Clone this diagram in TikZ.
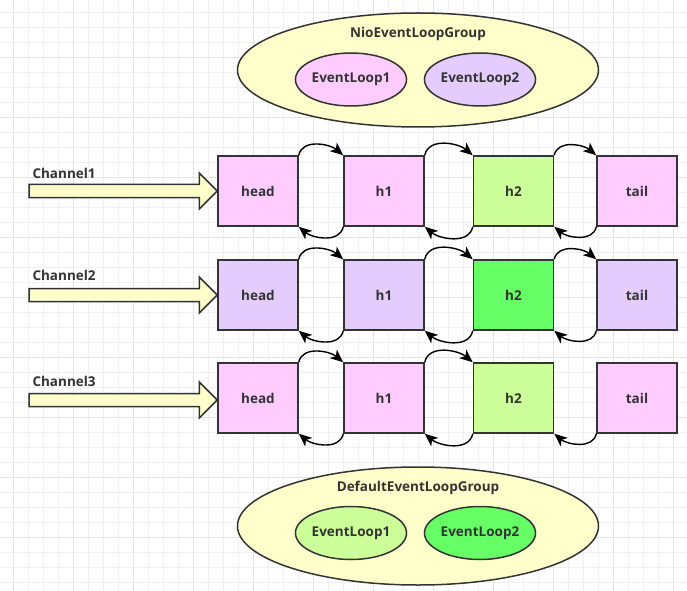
\documentclass[tikz,border=0pt]{standalone}
\usepackage{fontspec}
\setmainfont{Open Sans}
\usetikzlibrary{arrows.meta,shapes.geometric}
\definecolor{strk}{HTML}{333333}
\definecolor{txt}{HTML}{333333}
\definecolor{pinkf}{HTML}{FFCCFF}
\definecolor{lavf}{HTML}{E5CCFF}
\definecolor{lgreen}{HTML}{CCFF99}
\definecolor{bgreen}{HTML}{66FF66}
\definecolor{lyellow}{HTML}{FFFFCC}
\definecolor{gridl}{HTML}{F0F0F0}
\definecolor{gridd}{HTML}{E4E4E4}
\tikzset{
  x=1bp, y=1bp,
  lbl/.style={font=\fontsize{13.5bp}{15bp}\selectfont\bfseries, text=txt},
  cell/.style={draw=strk, line width=1.5bp, minimum width=80bp, minimum height=70bp, inner sep=0pt, lbl},
  grp/.style={ellipse, draw=strk, line width=1.5bp, fill=lyellow, minimum width=361bp, inner sep=0pt},
  loop/.style={ellipse, draw=strk, line width=1.5bp, minimum width=105bp, minimum height=53bp, inner sep=0pt, lbl},
  link/.style={draw=black, line width=1.4bp, -{Stealth[length=13bp,width=11bp,inset=3.5bp]}},
  upl/.style={out=78,in=140},
  dnl/.style={out=-102,in=-40},
  blockarrow/.style={draw=strk, line width=1.5bp, fill=lyellow, line join=miter}
}
\begin{document}
\begin{tikzpicture}
\useasboundingbox (0,0) rectangle (687,-591);
\fill[white] (0,0) rectangle (687,-591);
% grid
\foreach \k in {0,...,46} {
  \draw[gridl, line width=1bp] (13.3+15*\k,0) -- (13.3+15*\k,-591);
}
\foreach \k in {0,...,39} {
  \draw[gridl, line width=1bp] (0,-12.3-15*\k) -- (687,-12.3-15*\k);
}
\foreach \k in {0,...,11} {
  \draw[gridd, line width=1bp] (13.3+60*\k,0) -- (13.3+60*\k,-591);
}
\foreach \k in {1,...,10} {
  \draw[gridd, line width=1bp] (0,2.7-60*\k) -- (687,2.7-60*\k);
}

% top group
\node[grp, minimum height=114bp] (nio) at (418,-70) {};
\node[lbl] (niot) at (418,-34) {NioEventLoopGroup};
\node[loop, fill=pinkf] (nel1) at (351,-79.5) {EventLoop1};
\node[loop, fill=lavf] (nel2) at (480,-79.5) {EventLoop2};

% bottom group
\node[grp, minimum height=118bp] (def) at (418,-526) {};
\node[lbl] (deft) at (418,-488) {DefaultEventLoopGroup};
\node[loop, fill=lgreen] (del1) at (351,-533) {EventLoop1};
\node[loop, fill=bgreen] (del2) at (480,-533) {EventLoop2};

% rows
\node[cell, fill=pinkf] (a0) at (258,-191) {head};
\node[cell, fill=pinkf] (a1) at (384,-191) {h1};
\node[cell, fill=lgreen] (a2) at (513.5,-191) {h2};
\node[cell, fill=pinkf] (a3) at (637,-191) {tail};

\node[cell, fill=lavf] (b0) at (258,-295) {head};
\node[cell, fill=lavf] (b1) at (384,-295) {h1};
\node[cell, fill=bgreen] (b2) at (513.5,-295) {h2};
\node[cell, fill=lavf] (b3) at (637,-295) {tail};

\node[cell, fill=pinkf] (c0) at (258,-398) {head};
\node[cell, fill=pinkf] (c1) at (384,-398) {h1};
\node[cell, fill=lgreen] (c2) at (513.5,-398) {h2};
\node[cell, fill=pinkf] (c3) at (637,-398) {tail};

% channel labels
\node[lbl, anchor=west] (ch1) at (29,-173) {Channel1};
\node[lbl, anchor=west] (ch2) at (29,-275) {Channel2};
\node[lbl, anchor=west] (ch3) at (29,-381) {Channel3};

% block arrows
\foreach \n/\yy in {a0/-191, b0/-295, c0/-400} {
  \draw[blockarrow] (\n.west |- 0,\yy)
    -- ++(-18,18) -- ++(0,-11.5) -- (29,\yy+6.5) -- (29,\yy-6.5)
    -- ([xshift=-18]\n.west |- 0,\yy-6.5) -- ++(0,-11.5) -- cycle;
}

% links
\foreach \r in {a,b,c} {
  \draw[link] (\r0.north east) to[upl] (\r1.north west);
  \draw[link] (\r1.south west) to[dnl] (\r0.south east);
  \draw[link] (\r1.north east) to[upl] (\r2.north west);
  \draw[link] (\r2.south west) to[dnl] (\r1.south east);
  \draw[link] (\r3.south west) to[dnl] (\r2.south east);
}
\draw[link] (a2.north east) to[upl] (a3.north west);
\draw[link] (b2.north east) to[upl] (b3.north west);
\end{tikzpicture}
\end{document}
